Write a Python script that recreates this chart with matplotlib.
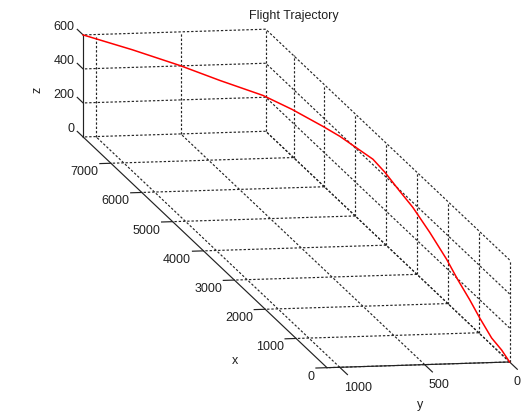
import matplotlib
matplotlib.use("Agg")
import matplotlib.pyplot as plt

plt.rcParams['font.family'] = ['Liberation Sans', 'DejaVu Sans']

# axis ranges (axis tight, equal data aspect)
x_max, y_max, z_max = 7900, 1075, 600
x_ticks = [0, 1000, 2000, 3000, 4000, 5000, 6000, 7000]
y_ticks = [0, 500, 1000]
z_ticks = [0, 200, 400, 600]

# trajectory samples
traj_x = [7900, 7514, 7097, 6691, 6294, 5897, 5405, 5112, 4845, 4427, 4042,
          3557, 3137, 2587, 2037, 1682, 1293, 970, 582, 258, 0]
traj_y = [1075, 855, 649, 488, 308, 209, 117, 70, 42, 0, 0,
          0, 0, 0, 0, 0, 0, 0, 0, 0, 0]
traj_z = [600, 572, 544, 521, 496, 479, 461, 451, 443, 432, 422,
          393, 371, 318, 253, 196, 144, 93, 41, 26, 0]

fig = plt.figure(figsize=(5.29, 4.19), dpi=100, facecolor='white')
S = 670.0
W, H = 529.0, 419.0
ax = fig.add_axes([-47.7 / W, -123.5 / H, S / W, S / H],
                  projection='3d', computed_zorder=False)
ax.set_proj_type('ortho')
ax.set_box_aspect((x_max, y_max, z_max), zoom=2.0)
ax.view_init(elev=9.9, azim=169.7)
ax.set_axis_off()

grid_kw = dict(color='#262626', lw=0.85, linestyle=(0, (2.0, 1.6)), zorder=1)
axis_kw = dict(color='#222222', lw=0.85, zorder=2)
txt_kw = dict(fontsize=9, color='#202020')

# back wall x = x_max
for z in z_ticks:
    ax.plot([x_max, x_max], [0, y_max], [z, z], **grid_kw)
for y in y_ticks:
    ax.plot([x_max, x_max], [y, y], [0, z_max], **grid_kw)

# back wall y = 0
for z in z_ticks:
    ax.plot([0, x_max], [0, 0], [z, z], **grid_kw)
for x in x_ticks:
    ax.plot([x, x], [0, 0], [0, z_max], **grid_kw)

# floor z = 0
for x in x_ticks:
    ax.plot([x, x], [0, y_max], [0, 0], **grid_kw)
for y in y_ticks:
    ax.plot([0, x_max], [y, y], [0, 0], **grid_kw)

# axis lines
ax.plot([0, x_max], [y_max, y_max], [0, 0], **axis_kw)
ax.plot([0, 0], [0, y_max], [0, 0], **axis_kw)
ax.plot([x_max, x_max], [y_max, y_max], [0, z_max], **axis_kw)

# ticks and tick labels
for x in x_ticks:
    ax.plot([x, x], [y_max, y_max + 65], [0, 0], **axis_kw)
    ax.text(x, y_max + 73, -50, str(x), ha='right', va='center', **txt_kw)
for y in y_ticks:
    ax.plot([0, -250], [y, y], [0, 0], **axis_kw)
    ax.text(-130, y, -97, str(y), ha='left', va='center', **txt_kw)
for z in z_ticks:
    ax.plot([x_max, x_max + 190], [y_max, y_max], [z, z], **axis_kw)
    ax.text(x_max + 280, y_max, z, str(z), ha='right', va='center', **txt_kw)

# axis labels
ax.text(315, 1558, 0, 'x', ha='center', va='center', **txt_kw)
ax.text(-1342, 772, 0, 'y', ha='center', va='center', **txt_kw)
ax.text(x_max, y_max + 268, 288, 'z', zdir='z', ha='center', va='center',
        **txt_kw)

# flight path
ax.plot(traj_x, traj_y, traj_z, color='red', lw=1.1, zorder=3)

ax.set_xlim(0, x_max)
ax.set_ylim(0, y_max)
ax.set_zlim(0, z_max)

fig.text(294 / W, 1 - 19.5 / H, 'Flight Trajectory', ha='center',
         va='baseline', **txt_kw)

fig.savefig('out.png', dpi=100, facecolor='white')
